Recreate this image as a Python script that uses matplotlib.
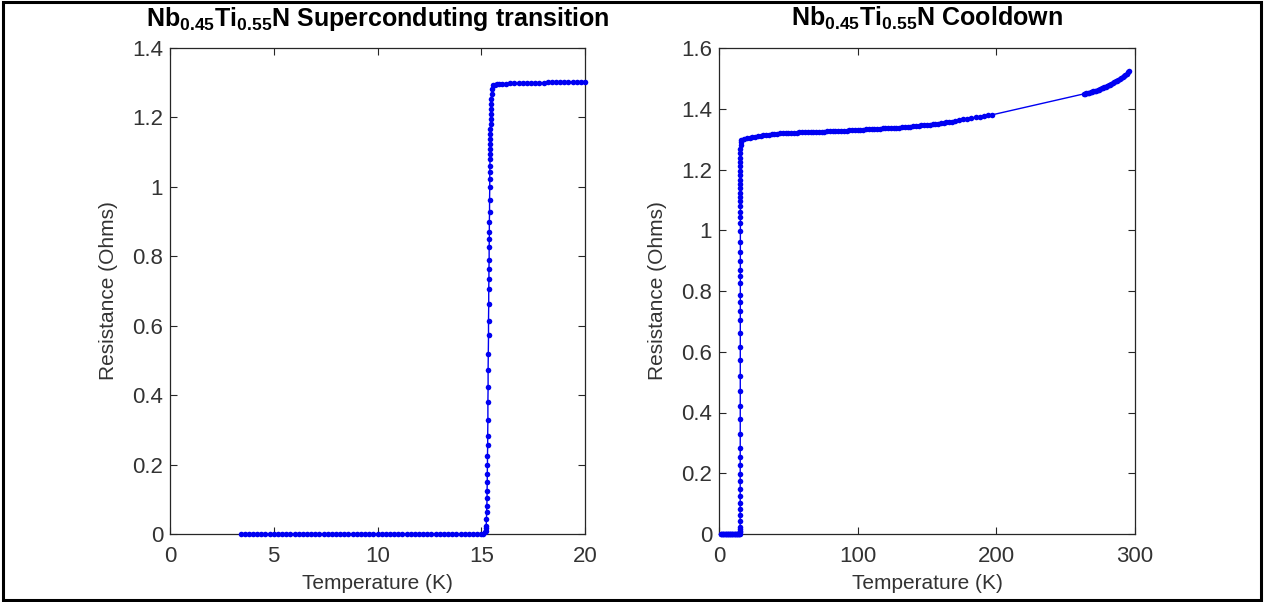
import matplotlib
matplotlib.use("Agg")
import matplotlib.pyplot as plt
from matplotlib.patches import Rectangle

# ---------------- data ----------------
# Left panel: superconducting transition
T_sc_zero = [3.4, 3.6, 3.8, 4.0, 4.2, 4.4, 4.6, 4.8, 5.0, 5.2, 5.4, 5.6, 5.8, 6.0,
             6.2, 6.4, 6.6, 6.8, 7.0, 7.2, 7.4, 7.6, 7.8, 8.0, 8.2, 8.4, 8.6, 8.8,
             9.0, 9.2, 9.4, 9.6, 9.8, 10.0, 10.2, 10.4, 10.6, 10.8, 11.0, 11.2, 11.4,
             11.6, 11.8, 12.0, 12.2, 12.4, 12.6, 12.8, 13.0, 13.2, 13.4, 13.6, 13.8,
             14.0, 14.2, 14.4, 14.6, 14.8, 15.0, 15.1]
R_sc_zero = [0, 0, 0, 0, 0, 0, 0, 0, 0, 0, 0, 0, 0, 0,
             0, 0, 0, 0, 0, 0, 0, 0, 0, 0, 0, 0, 0, 0,
             0, 0, 0, 0, 0, 0, 0, 0, 0, 0, 0, 0, 0,
             0, 0, 0, 0, 0, 0, 0, 0, 0, 0, 0, 0,
             0, 0, 0, 0, 0, 0, 0]

T_trans = [15.20, 15.22, 15.23, 15.24, 15.25, 15.26, 15.27, 15.28, 15.28, 15.29,
           15.29, 15.30, 15.30, 15.31, 15.31, 15.32, 15.32, 15.33, 15.33, 15.34,
           15.35, 15.35, 15.36, 15.36, 15.37, 15.37, 15.38, 15.38, 15.39, 15.39,
           15.39, 15.40, 15.40, 15.41, 15.41, 15.41, 15.42, 15.42, 15.42, 15.43,
           15.43, 15.43, 15.44, 15.44, 15.45, 15.45, 15.46, 15.46, 15.47, 15.48,
           15.50, 15.53, 15.58]
R_trans = [0.005, 0.010, 0.016, 0.024, 0.043, 0.062, 0.082, 0.103, 0.125, 0.149,
           0.173, 0.199, 0.226, 0.255, 0.283, 0.329, 0.379, 0.423, 0.471, 0.519,
           0.572, 0.615, 0.663, 0.706, 0.735, 0.764, 0.788, 0.826, 0.850, 0.869,
           0.898, 0.927, 0.961, 0.999, 1.023, 1.042, 1.061, 1.081, 1.095, 1.110,
           1.124, 1.138, 1.153, 1.167, 1.182, 1.196, 1.210, 1.225, 1.239, 1.254,
           1.268, 1.282, 1.292]

T_sc_norm = [15.66, 15.75, 15.85, 16.0, 16.2, 16.4, 16.6, 16.8, 17.0, 17.2, 17.4, 17.6,
             17.8, 18.0, 18.2, 18.4, 18.6, 18.8, 19.0, 19.2, 19.4, 19.6, 19.8, 20.0]
R_sc_norm = [1.294, 1.295, 1.296, 1.297, 1.297, 1.298, 1.298, 1.298, 1.299, 1.299, 1.299, 1.300,
             1.300, 1.300, 1.301, 1.301, 1.301, 1.301, 1.302, 1.302, 1.302, 1.302, 1.303, 1.303]

# Right panel: full cooldown
T_cd_zero = [1.2, 1.7, 2.2, 2.7, 3.2, 3.7, 4.2, 4.7, 5.2, 5.7, 6.2, 6.7, 7.2, 7.7, 8.2,
             8.7, 9.2, 9.7, 10.2, 10.7, 11.2, 11.7, 12.2, 12.7, 13.2, 13.7, 14.2, 14.7, 15.1]
R_cd_zero = [0, 0, 0, 0, 0, 0, 0, 0, 0, 0, 0, 0, 0, 0, 0,
             0, 0, 0, 0, 0, 0, 0, 0, 0, 0, 0, 0, 0, 0]

T_cd_norm = [16, 18, 20, 22, 24, 26, 28, 30, 32, 34,
             36, 38, 40, 42, 44, 46, 48, 50, 52, 54,
             56, 58, 60, 62, 64, 66, 68, 70, 72, 74,
             76, 78, 80, 82, 84, 86, 88, 90, 92, 94,
             96, 98, 100, 102, 104, 106, 108, 110, 112, 114,
             116, 118, 120, 122, 124, 126, 128, 130, 132, 134,
             136, 138, 140, 142, 144, 146, 148, 150, 152, 154,
             156, 158, 160, 162, 164, 166, 168, 170,
             173, 176, 179, 182, 185, 188, 191, 194, 197,
             263, 264, 265, 266, 267, 268, 269, 270, 271, 272,
             273, 274, 275, 276, 277, 278, 279, 280, 281, 282,
             283, 284, 285, 286, 287, 288, 289, 290, 291, 292,
             293, 294, 295, 296]
R_cd_norm = [1.297, 1.301, 1.303, 1.304, 1.306, 1.307, 1.309, 1.310, 1.312, 1.313,
             1.315, 1.316, 1.317, 1.318, 1.319, 1.319, 1.320, 1.320, 1.321, 1.321,
             1.321, 1.322, 1.322, 1.322, 1.323, 1.323, 1.324, 1.324, 1.324, 1.325,
             1.325, 1.326, 1.326, 1.326, 1.327, 1.327, 1.328, 1.328, 1.328, 1.329,
             1.329, 1.330, 1.330, 1.331, 1.331, 1.332, 1.332, 1.332, 1.333, 1.334,
             1.334, 1.335, 1.335, 1.336, 1.336, 1.337, 1.338, 1.338, 1.339, 1.340,
             1.341, 1.341, 1.342, 1.343, 1.344, 1.345, 1.346, 1.346, 1.347, 1.349,
             1.350, 1.351, 1.352, 1.353, 1.355, 1.356, 1.358, 1.360,
             1.363, 1.365, 1.367, 1.370, 1.372, 1.374, 1.376, 1.378, 1.380,
             1.449, 1.450, 1.451, 1.452, 1.453, 1.455, 1.456, 1.457, 1.459, 1.460,
             1.462, 1.463, 1.465, 1.467, 1.469, 1.471, 1.473, 1.475, 1.477, 1.479,
             1.482, 1.484, 1.487, 1.490, 1.492, 1.495, 1.498, 1.502, 1.505, 1.509,
             1.512, 1.516, 1.520, 1.524]

left_xticks = [0, 5, 10, 15, 20]
left_yticks = [0, 0.2, 0.4, 0.6, 0.8, 1.0, 1.2, 1.4]
left_yticklabels = ["0", "0.2", "0.4", "0.6", "0.8", "1", "1.2", "1.4"]
right_xticks = [0, 100, 200, 300]
right_yticks = [0, 0.2, 0.4, 0.6, 0.8, 1.0, 1.2, 1.4, 1.6]
right_yticklabels = ["0", "0.2", "0.4", "0.6", "0.8", "1", "1.2", "1.4", "1.6"]

left_title = r"$\mathbf{Nb_{0.45}Ti_{0.55}N}$ Superconduting transition"
right_title = r"$\mathbf{Nb_{0.45}Ti_{0.55}N}$ Cooldown"
xlabel = "Temperature (K)"
ylabel = "Resistance (Ohms)"

# ---------------- style ----------------
plt.rcParams["font.family"] = ["Liberation Sans", "DejaVu Sans"]
plt.rcParams["mathtext.fontset"] = "custom"
plt.rcParams["mathtext.rm"] = "Liberation Sans"
plt.rcParams["mathtext.bf"] = "Liberation Sans:bold"
plt.rcParams["mathtext.it"] = "Liberation Sans:italic"

W, H = 1264, 602
fig = plt.figure(figsize=(W / 100, H / 100), dpi=100)
fig.patch.set_facecolor("white")

def px_axes(x0, x1, y0, y1):
    return fig.add_axes([x0 / W, 1 - y1 / H, (x1 - x0) / W, (y1 - y0) / H])

ax1 = px_axes(170, 585, 48, 534)
ax2 = px_axes(719, 1135, 48, 534)

blue = (0.0, 0.0, 0.95)
frame_c = (0.15, 0.15, 0.15)
tick_c = (0.2, 0.2, 0.2)

def style(ax, xt, yt, ytl, xlim, ylim, title):
    ax.set_xlim(*xlim)
    ax.set_ylim(*ylim)
    ax.set_xticks(xt)
    ax.set_xticklabels([str(v) for v in xt])
    ax.set_yticks(yt)
    ax.set_yticklabels(ytl)
    for s in ax.spines.values():
        s.set_color(frame_c)
        s.set_linewidth(0.9)
        s.set_zorder(3)
    ax.tick_params(direction="in", top=True, right=True, length=5, width=0.8,
                   color=frame_c, labelcolor=tick_c, labelsize=16)
    ax.tick_params(axis="x", pad=9)
    ax.tick_params(axis="y", pad=5)
    ax.set_xlabel(xlabel, fontsize=15, color=tick_c, labelpad=5)
    ax.set_ylabel(ylabel, fontsize=15, color=tick_c, labelpad=10)
    ax.set_title(title, fontsize=18, fontweight="bold", color="black", pad=16)

ax1.plot(T_sc_zero + T_trans + T_sc_norm, R_sc_zero + R_trans + R_sc_norm,
         "-", color=blue, lw=1.0, marker="o", ms=4.0, mec="none", mfc=blue,
         clip_on=False, zorder=4)
ax2.plot(T_cd_zero + T_trans + T_cd_norm, R_cd_zero + R_trans + R_cd_norm,
         "-", color=blue, lw=1.0, marker="o", ms=4.0, mec="none", mfc=blue,
         clip_on=False, zorder=4)

style(ax1, left_xticks, left_yticks, left_yticklabels, (0, 20), (0, 1.4), left_title)
style(ax2, right_xticks, right_yticks, right_yticklabels, (0, 300), (0, 1.6), right_title)

# figure border
fig.patches.append(Rectangle((3 / W, 2 / H), 1 - 6 / W, 1 - 4 / H, transform=fig.transFigure,
                             fill=False, edgecolor="black", linewidth=2.2))

fig.savefig("out.png", dpi=100, facecolor="white")
